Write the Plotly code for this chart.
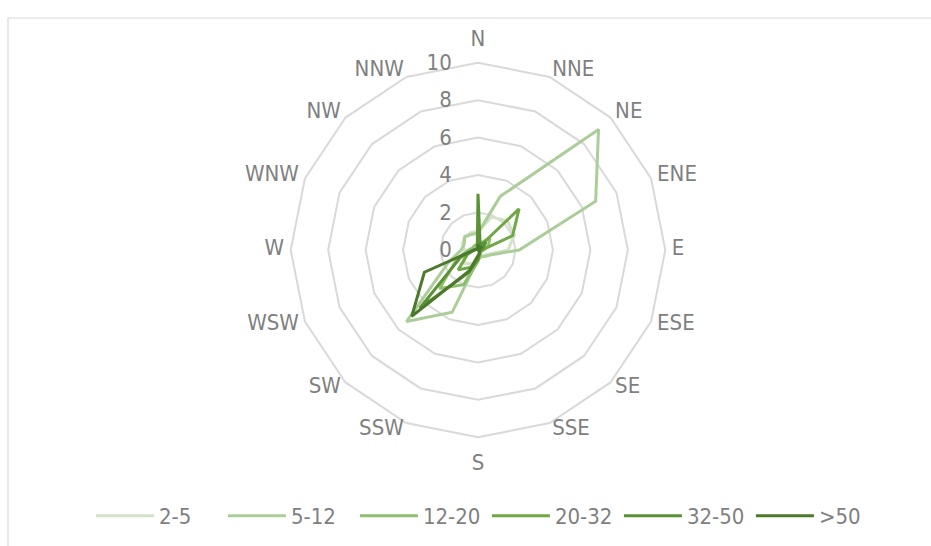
import plotly.graph_objects as go

# Wind directions (clockwise from north)
directions = ["N", "NNE", "NE", "ENE", "E", "ESE", "SE", "SSE",
              "S", "SSW", "SW", "WSW", "W", "WNW", "NW", "NNW"]

# Frequency (%) per direction for each wind-speed band
speed_2_5 = [1.0, 1.9, 2.2, 2.1, 1.6, 0.6, 0.4, 0.4, 0.5, 0.8, 1.0, 0.9, 0.7, 0.9, 1.0, 1.0]
speed_5_12 = [0.9, 3.1, 9.1, 6.8, 2.2, 0.7, 0.5, 0.4, 0.5, 3.6, 5.4, 1.7, 0.9, 0.8, 1.0, 0.9]
speed_12_20 = [0.3, 0.4, 0.9, 0.6, 0.3, 0.2, 0.2, 0.3, 0.6, 2.0, 2.9, 1.2, 0.5, 0.3, 0.3, 0.3]
speed_20_32 = [0.2, 0.2, 3.1, 2.0, 0.2, 0.1, 0.1, 0.2, 0.4, 1.0, 1.5, 0.6, 0.2, 0.1, 0.1, 0.1]
speed_32_50 = [3.0, 0.3, 0.6, 0.3, 0.1, 0.1, 0.1, 0.2, 0.5, 1.3, 4.4, 1.0, 0.2, 0.1, 0.1, 0.1]
speed_50_up = [0.3, 0.1, 0.3, 0.1, 0.1, 0.0, 0.1, 0.2, 0.3, 1.2, 5.0, 3.1, 0.2, 0.1, 0.1, 0.1]

series_names = ["2-5", "5-12", "12-20", "20-32", "32-50", ">50"]
series_values = [speed_2_5, speed_5_12, speed_12_20, speed_20_32, speed_32_50, speed_50_up]
series_colors = ["#d3e2c9", "#abcd98", "#8dbf6f", "#6fa845", "#5b9236", "#4b7a2c"]

radial_ticks = [0, 2, 4, 6, 8, 10]

TEXT = "#7f7f7f"
GRID = "#d9d9d9"
FONT = "DejaVu Sans Condensed, Open Sans, sans-serif"
FS = 22
R_OUT = 11.0        # radial range leaves room for the direction labels
SIDE_LABEL_R = 10.35  # labels left/right of the ring
POLE_LABEL_R = 10.6   # labels above (N) and below (S) the ring

fig = go.Figure()
for name, vals, color in zip(series_names, series_values, series_colors):
    fig.add_trace(go.Scatterpolar(
        r=vals + vals[:1],
        theta=directions + directions[:1],
        mode="lines",
        name=name,
        line=dict(color=color, width=3),
        hoverinfo="skip",
    ))


# Direction labels: anchored on the side facing the chart centre
def label_position(i, n):
    if i == 0:
        return "top center"
    if i == n // 2:
        return "bottom center"
    return "middle right" if i < n // 2 else "middle left"


def label_radius(i, n):
    if i == 0:
        return POLE_LABEL_R
    if i == n // 2:
        return POLE_LABEL_R + 0.25
    return SIDE_LABEL_R


n_dir = len(directions)
fig.add_trace(go.Scatterpolar(
    r=[label_radius(i, n_dir) for i in range(n_dir)],
    theta=directions,
    mode="text",
    text=directions,
    textposition=[label_position(i, n_dir) for i in range(n_dir)],
    textfont=dict(family=FONT, size=FS, color=TEXT),
    showlegend=False,
    hoverinfo="skip",
    cliponaxis=False,
))

W, H = 931, 546
cx, cy = 478, 250
rad = 187.3 * R_OUT / 10

fig.update_layout(
    width=W, height=H,
    margin=dict(l=0, r=0, t=0, b=0),
    paper_bgcolor="white",
    plot_bgcolor="white",
    font=dict(family=FONT, size=FS, color=TEXT),
    showlegend=True,
    legend=dict(
        orientation="h",
        x=0.523, xanchor="center",
        y=(H - 516) / H, yanchor="middle",
        font=dict(size=FS, color=TEXT),
        itemwidth=58,
        entrywidth=59,
        traceorder="normal",
    ),
    polar=dict(
        domain=dict(x=[(cx - rad) / W, (cx + rad) / W],
                    y=[(H - cy - rad) / H, (H - cy + rad) / H]),
        bgcolor="white",
        gridshape="linear",
        radialaxis=dict(
            range=[0, R_OUT],
            tickvals=radial_ticks,
            ticktext=[str(v) for v in radial_ticks],
            angle=90,
            tickangle=90,
            side="counterclockwise",
            showline=False,
            ticks="outside",
            ticklen=18,
            tickcolor="rgba(0,0,0,0)",
            gridcolor=GRID,
            gridwidth=1.6,
            tickfont=dict(size=FS, color=TEXT),
        ),
        angularaxis=dict(
            rotation=90,
            direction="clockwise",
            showgrid=False,
            showline=False,
            ticks="",
            showticklabels=False,
        ),
    ),
    shapes=[dict(
        type="rect", xref="paper", yref="paper",
        x0=8 / W, x1=1.02, y0=-0.02, y1=(H - 18) / H,
        line=dict(color=GRID, width=1.2), fillcolor="rgba(0,0,0,0)",
        layer="below",
    )],
)

fig.write_html("out.html")
